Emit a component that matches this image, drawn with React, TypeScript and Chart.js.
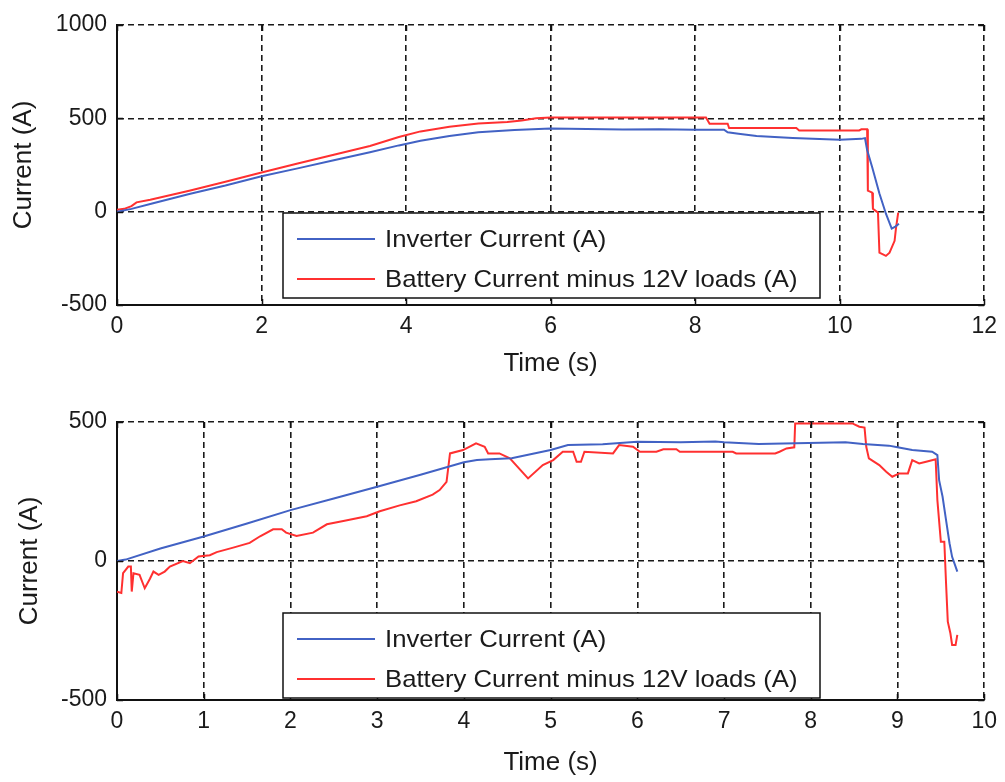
import React, { useEffect, useRef } from 'react';
import { Chart, registerables } from 'chart.js';

Chart.register(...registerables);

const FONT = '"Liberation Sans", Arial, Helvetica, sans-serif';
const BLUE = '#4262c4';
const RED = '#ff3030';
const SERIES_LABELS = ['Inverter Current (A)', 'Battery Current minus 12V loads (A)'];

// ---------- Top chart data ----------
const topBlueTime = [
  0, 0.2, 0.5, 1, 1.5, 2, 2.5, 3, 3.5, 3.9,
  4.2, 4.6, 5, 5.5, 6, 6.5, 7, 7.5, 8, 8.4,
  8.45, 8.6, 8.85, 9.35, 10, 10.3, 10.35, 10.38, 10.45, 10.55,
  10.64, 10.72, 10.77, 10.82,
];
const topBlueValues = [
  0, 15, 45, 95, 140, 190, 232, 275, 318, 355,
  380, 405, 425, 437, 445, 443, 440, 442, 439, 439,
  425, 418, 405, 394, 385, 390, 394, 330, 238, 97,
  -11, -91, -80, -65,
];
const topRedTime = [
  0, 0.1, 0.2, 0.27, 0.46, 1, 1.5, 2, 2.5, 3,
  3.5, 3.9, 4.2, 4.6, 5, 5.4, 5.6, 5.8, 6, 7,
  8, 8.15, 8.2, 8.45, 8.47, 9.4, 9.44, 10.27, 10.3, 10.38,
  10.39, 10.45, 10.46, 10.53, 10.55, 10.64, 10.69, 10.76, 10.78, 10.81,
];
const topRedValues = [
  10, 15, 30, 50, 64, 112, 160, 210, 258, 305,
  352, 400, 430, 455, 472, 480, 488, 500, 505, 505,
  505, 505, 471, 471, 448, 448, 435, 435, 441, 441,
  113, 102, 16, -5, -220, -237, -220, -156, -86, -5,
];
const topXTicks = { min: 0, max: 12, step: 2 };
const topYTicks = { min: -500, max: 1000, step: 500 };

// ---------- Bottom chart data ----------
const botBlueTime = [
  0, 0.1, 0.5, 1, 1.5, 2, 2.5, 3, 3.5, 4,
  4.15, 4.3, 4.55, 5, 5.2, 5.6, 6, 6.5, 6.9, 7,
  7.4, 8.4, 8.6, 8.9, 9, 9.17, 9.4, 9.46, 9.48, 9.52,
  9.56, 9.6, 9.63, 9.69,
];
const botBlueValues = [
  0, 5, 45, 88, 135, 183, 225, 267, 310, 355,
  363, 366, 370, 399, 417, 420, 429, 427, 430, 427,
  421, 427, 421, 415, 409, 399, 393, 381, 291, 231,
  147, 64, 15, -38,
];
const botRedTime = [
  0, 0.05, 0.07, 0.13, 0.16, 0.17, 0.19, 0.26, 0.32, 0.38,
  0.42, 0.48, 0.55, 0.61, 0.76, 0.84, 0.94, 1.07, 1.15, 1.34,
  1.53, 1.65, 1.8, 1.9, 1.95, 2.07, 2.26, 2.42, 2.61, 2.88,
  3.03, 3.26, 3.45, 3.64, 3.72, 3.8, 3.84, 3.99, 4.14, 4.24,
  4.28, 4.41, 4.53, 4.74, 4.91, 5.03, 5.14, 5.26, 5.3, 5.35,
  5.39, 5.72, 5.79, 5.95, 6.03, 6.22, 6.3, 6.45, 6.49, 7.1,
  7.14, 7.59, 7.64, 7.72, 7.81, 7.82, 8.48, 8.56, 8.62, 8.64,
  8.67, 8.79, 8.87, 8.94, 9.02, 9.12, 9.17, 9.25, 9.33, 9.44,
  9.46, 9.5, 9.54, 9.56, 9.58, 9.61, 9.63, 9.67, 9.69,
];
const botRedValues = [
  -110, -115, -44, -20, -20, -110, -44, -50, -98, -64,
  -38, -50, -38, -20, 0, -8, 16, 21, 32, 48,
  65, 89, 114, 114, 102, 90, 102, 132, 144, 161,
  179, 200, 215, 239, 255, 285, 387, 399, 423, 411,
  387, 387, 369, 297, 345, 363, 393, 393, 357, 357,
  393, 387, 417, 411, 393, 393, 402, 402, 393, 393,
  387, 387, 393, 405, 409, 495, 495, 483, 480, 411,
  369, 345, 321, 303, 315, 315, 363, 351, 357, 366,
  219, 69, 69, -80, -218, -260, -302, -302, -266,
];
const botXTicks = { min: 0, max: 10, step: 1 };
const botYTicks = { min: -500, max: 500, step: 500 };

const toPoints = (t: number[], v: number[]) => t.map((x, i) => ({ x, y: v[i] }));

const innerTicksPlugin = {
  id: 'innerTicks',
  afterDatasetsDraw(chart: any) {
    const { ctx, chartArea: ca, scales } = chart;
    const len = 6;
    ctx.save();
    ctx.strokeStyle = '#111';
    ctx.lineWidth = 1.5;
    ctx.beginPath();
    scales.x.ticks.forEach((t: any) => {
      const x = Math.round(scales.x.getPixelForValue(t.value)) + 0.5;
      ctx.moveTo(x, ca.bottom);
      ctx.lineTo(x, ca.bottom - len);
      ctx.moveTo(x, ca.top);
      ctx.lineTo(x, ca.top + len);
    });
    scales.y.ticks.forEach((t: any) => {
      const y = Math.round(scales.y.getPixelForValue(t.value)) + 0.5;
      ctx.moveTo(ca.left, y);
      ctx.lineTo(ca.left + len, y);
      ctx.moveTo(ca.right, y);
      ctx.lineTo(ca.right - len, y);
    });
    ctx.stroke();
    ctx.restore();
  },
};

const boxLegendPlugin = {
  id: 'boxLegend',
  afterDatasetsDraw(chart: any, _args: any, opts: any) {
    const { ctx, chartArea: ca } = chart;
    const left = ca.left + opts.offsetX;
    const w = opts.width;
    const h = opts.height;
    const top = ca.bottom - opts.bottomGap - h;
    ctx.save();
    ctx.fillStyle = '#ffffff';
    ctx.fillRect(left, top, w, h);
    ctx.strokeStyle = '#111';
    ctx.lineWidth = 1.5;
    ctx.strokeRect(left, top, w, h);
    chart.data.datasets.forEach((ds: any, i: number) => {
      const y = top + opts.rows[i];
      ctx.strokeStyle = ds.borderColor;
      ctx.lineWidth = 2;
      ctx.beginPath();
      ctx.moveTo(left + 14, y);
      ctx.lineTo(left + 92, y);
      ctx.stroke();
      ctx.save();
      ctx.fillStyle = '#1a1a1a';
      ctx.font = `${opts.fontSize}px ${FONT}`;
      ctx.textAlign = 'left';
      ctx.textBaseline = 'middle';
      ctx.translate(left + 102, y + 1);
      ctx.scale(opts.stretch, 1);
      ctx.fillText(ds.label, 0, 0);
      ctx.restore();
    });
    ctx.restore();
  },
};

type Spec = {
  blueT: number[]; blueV: number[]; redT: number[]; redV: number[];
  xr: { min: number; max: number; step: number };
  yr: { min: number; max: number; step: number };
  padTop: number; xAxisH: number; xTitlePad: number; yTitlePad: number; legendGap: number;
};

function buildConfig(s: Spec): any {
  const tickFont = { family: FONT, size: 23 };
  const titleFont = { family: FONT, size: 26 };
  const gridOpts = { color: '#1a1a1a', lineWidth: 1.6, drawTicks: false };
  const borderOpts = { display: true, color: '#111', width: 2, dash: [6, 4] };
  return {
    type: 'line',
    data: {
      datasets: [
        { label: SERIES_LABELS[0], data: toPoints(s.blueT, s.blueV), borderColor: BLUE, borderWidth: 2, pointRadius: 0, tension: 0, fill: false },
        { label: SERIES_LABELS[1], data: toPoints(s.redT, s.redV), borderColor: RED, borderWidth: 2, pointRadius: 0, tension: 0, fill: false },
      ],
    },
    options: {
      responsive: false,
      animation: false,
      devicePixelRatio: 1,
      layout: { padding: { left: 0, right: 20, top: s.padTop, bottom: 0 } },
      plugins: {
        legend: { display: false },
        tooltip: { enabled: false },
        boxLegend: { offsetX: 166, width: 537, height: 85, bottomGap: s.legendGap, rows: [26, 66], fontSize: 24, stretch: 1.07 },
      },
      scales: {
        x: {
          type: 'linear',
          min: s.xr.min,
          max: s.xr.max,
          afterFit: (sc: any) => { sc.height = s.xAxisH; },
          ticks: { stepSize: s.xr.step, autoSkip: false, maxRotation: 0, padding: 8, color: '#1a1a1a', font: tickFont, callback: (v: any) => String(v) },
          grid: gridOpts,
          border: borderOpts,
          title: { display: true, text: 'Time (s)', color: '#1a1a1a', font: titleFont, padding: { top: 0, bottom: s.xTitlePad } },
        },
        y: {
          type: 'linear',
          min: s.yr.min,
          max: s.yr.max,
          afterFit: (sc: any) => { sc.width = 117; },
          ticks: { stepSize: s.yr.step, padding: 10, color: '#1a1a1a', font: tickFont, callback: (v: any) => String(v) },
          grid: gridOpts,
          border: borderOpts,
          title: { display: true, text: 'Current (A)', color: '#1a1a1a', font: titleFont, padding: { top: s.yTitlePad, bottom: 0 } },
        },
      },
    },
    plugins: [innerTicksPlugin, boxLegendPlugin],
  };
}

function PlotCanvas({ spec, top }: { spec: Spec; top: number }) {
  const ref = useRef<HTMLCanvasElement | null>(null);
  useEffect(() => {
    if (!ref.current) return;
    const chart = new Chart(ref.current, buildConfig(spec));
    return () => chart.destroy();
  }, [spec]);
  return (
    <canvas
      ref={ref}
      width={1005}
      height={391}
      style={{ position: 'absolute', left: 0, top, width: 1005, height: 391, display: 'block' }}
    />
  );
}

const topSpec: Spec = {
  blueT: topBlueTime, blueV: topBlueValues, redT: topRedTime, redV: topRedValues,
  xr: topXTicks, yr: topYTicks, padTop: 25, xAxisH: 86, xTitlePad: 12, yTitlePad: 8, legendGap: 7,
};
const botSpec: Spec = {
  blueT: botBlueTime, blueV: botBlueValues, redT: botRedTime, redV: botRedValues,
  xr: botXTicks, yr: botYTicks, padTop: 31, xAxisH: 82, xTitlePad: 4, yTitlePad: 14, legendGap: 2,
};

export default function App() {
  return (
    <div style={{ position: 'absolute', left: 0, top: 0, width: 1005, height: 782, background: '#ffffff' }}>
      <PlotCanvas spec={topSpec} top={0} />
      <PlotCanvas spec={botSpec} top={391} />
    </div>
  );
}
